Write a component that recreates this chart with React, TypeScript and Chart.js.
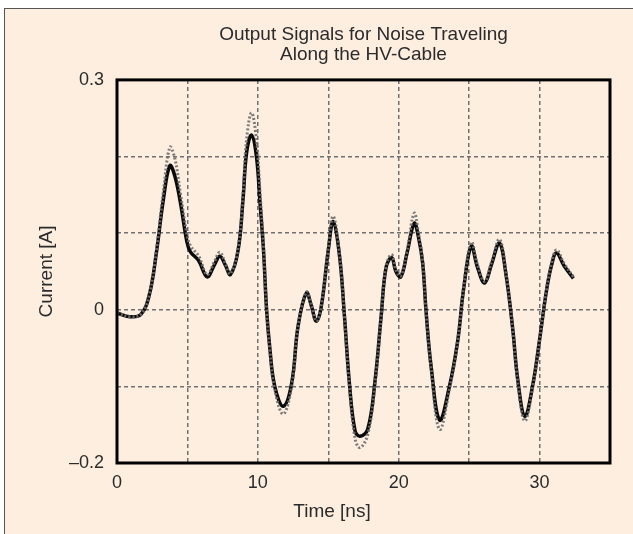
import React, { useEffect, useRef } from "react";
import { Chart, registerables } from "chart.js";

Chart.register(...registerables);

const timeNs = [0, 0.9, 1.7, 2.3, 2.8, 3.3, 3.75, 4.1, 4.5, 4.95, 5.2, 5.8, 6.4, 6.9, 7.3, 7.7, 8.05, 8.6, 8.95, 9.2, 9.55, 9.9, 10.15, 10.4, 10.62, 10.85, 11.2, 11.8, 12.4, 12.85, 13.45, 13.8, 14.15, 14.5, 15.0, 15.35, 15.8, 16.15, 16.5, 16.9, 17.25, 17.8, 18.3, 18.75, 19.1, 19.5, 19.8, 20.15, 20.6, 21.1, 21.4, 21.7, 21.95, 22.3, 22.9, 23.6, 24.2, 24.6, 25.15, 25.6, 26.1, 26.6, 27.15, 27.6, 28.1, 28.45, 28.95, 29.5, 30.0, 30.5, 30.85, 31.2, 31.75, 32.4];

const signalA = [-0.004, -0.009, -0.006, 0.02, 0.075, 0.145, 0.188, 0.175, 0.14, 0.09, 0.076, 0.064, 0.043, 0.058, 0.07, 0.058, 0.046, 0.078, 0.145, 0.205, 0.228, 0.2, 0.14, 0.078, 0.0, -0.05, -0.1, -0.126, -0.096, -0.022, 0.022, 0.005, -0.015, 0.004, 0.078, 0.115, 0.07, -0.009, -0.096, -0.158, -0.165, -0.156, -0.096, -0.009, 0.055, 0.068, 0.05, 0.043, 0.075, 0.113, 0.095, 0.061, -0.004, -0.074, -0.144, -0.1, -0.039, 0.026, 0.083, 0.055, 0.035, 0.06, 0.087, 0.048, -0.026, -0.091, -0.139, -0.1, -0.039, 0.026, 0.058, 0.074, 0.057, 0.041];

const signalB = [-0.004, -0.009, -0.006, 0.02, 0.078, 0.155, 0.212, 0.198, 0.152, 0.1, 0.084, 0.07, 0.046, 0.062, 0.075, 0.06, 0.047, 0.08, 0.15, 0.222, 0.257, 0.222, 0.155, 0.082, 0.0, -0.052, -0.104, -0.136, -0.1, -0.022, 0.023, 0.006, -0.015, 0.005, 0.08, 0.122, 0.072, -0.01, -0.1, -0.168, -0.18, -0.163, -0.1, -0.01, 0.057, 0.072, 0.052, 0.044, 0.078, 0.126, 0.1, 0.063, -0.004, -0.077, -0.156, -0.104, -0.04, 0.027, 0.088, 0.058, 0.037, 0.063, 0.092, 0.05, -0.027, -0.094, -0.145, -0.102, -0.04, 0.027, 0.06, 0.078, 0.06, 0.043];

const xTickLabels: Record<number, string> = { 0: "0", 10: "10", 20: "20", 30: "30" };
const yTickLabels: Record<number, string> = { 3: "0.3", 0: "0", [-2]: "\u20130.2" };
const xAxisTitle = "Time [ns]";

const FONT = "'Liberation Sans', Arial, Helvetica, sans-serif";
const TEXT = "#2b2b2b";

export default function App() {
  const ref = useRef<HTMLCanvasElement>(null);
  useEffect(() => {
    document.body.style.margin = "0";
    const bgPlugin = {
      id: "bg",
      beforeDraw(chart: any) {
        const c = chart.ctx;
        c.save();
        c.fillStyle = "#ffffff";
        c.fillRect(0, 0, chart.width, chart.height);
        c.fillStyle = "#fdeee0";
        c.fillRect(4, 8, chart.width - 4, chart.height);
        c.strokeStyle = "#555";
        c.lineWidth = 1;
        c.strokeRect(4.5, 8.5, chart.width + 10, chart.height + 10);
        c.restore();
      },
      afterDatasetsDraw(chart: any) {
        const a = chart.chartArea;
        const c = chart.ctx;
        c.save();
        c.strokeStyle = "#000";
        c.lineWidth = 3;
        c.strokeRect(a.left, a.top, a.right - a.left, a.bottom - a.top);
        c.restore();
      },
      afterDraw(chart: any) {
        const c = chart.ctx;
        c.save();
        c.fillStyle = TEXT;
        c.font = `19px ${FONT}`;
        c.textAlign = "center";
        c.textBaseline = "middle";
        c.fillText(xAxisTitle, 332, 512);
        c.restore();
      },
    };
    const chart = new Chart(ref.current!, {
      type: "line",
      data: {
        labels: timeNs,
        datasets: [
          {
            label: "Signal A",
            data: timeNs.map((t, i) => ({ x: t, y: signalA[i] })),
            borderColor: "#0a0a0a",
            borderWidth: 3.5,
            pointRadius: 0,
            tension: 0.4,
            order: 2,
          },
          {
            label: "Signal B",
            data: timeNs.map((t, i) => ({ x: t, y: signalB[i] })),
            borderColor: "rgba(110,110,110,0.9)",
            borderWidth: 3,
            borderDash: [2, 2],
            pointRadius: 0,
            tension: 0.4,
            order: 1,
          },
        ],
      },
      options: {
        animation: false,
        responsive: false,
        layout: { padding: { left: 0, right: 23, top: 2, bottom: 0 } },
        plugins: {
          legend: { display: false },
          tooltip: { enabled: false },
          title: {
            display: true,
            fullSize: false,
            text: ["Output Signals for Noise Traveling", "Along the HV-Cable"],
            color: TEXT,
            font: { family: FONT, size: 19, weight: "normal", lineHeight: 1.05 },
            padding: { top: 23, bottom: 15 },
          },
        },
        scales: {
          x: {
            type: "linear",
            min: 0,
            max: 35,
            afterFit(s: any) { s.height = 71; },
            ticks: {
              stepSize: 5,
              autoSkip: false,
              maxRotation: 0,
              padding: 9,
              color: TEXT,
              font: { family: FONT, size: 18 },
              callback: (v: any) => xTickLabels[Math.round(Number(v))] ?? "",
            },
            grid: { color: "#707070", lineWidth: 1.5, drawTicks: false },
            border: { display: false, dash: [4, 3] },
          },
          y: {
            type: "linear",
            min: -0.2,
            max: 0.3,
            afterFit(s: any) { s.width = 117; },
            ticks: {
              stepSize: 0.1,
              autoSkip: false,
              padding: 13,
              color: TEXT,
              font: { family: FONT, size: 18 },
              callback: (v: any) => yTickLabels[Math.round(Number(v) * 10)] ?? "",
            },
            grid: { color: "#707070", lineWidth: 1.5, drawTicks: false },
            border: { display: false, dash: [4, 3] },
            title: {
              display: true,
              text: "Current [A]",
              color: TEXT,
              font: { family: FONT, size: 19 },
              padding: { top: 35, bottom: 0 },
            },
          },
        },
      },
      plugins: [bgPlugin],
    } as any);
    return () => chart.destroy();
  }, []);
  return (
    <div style={{ width: 633, height: 534 }}>
      <canvas ref={ref} width={633} height={534} style={{ display: "block" }} />
    </div>
  );
}
